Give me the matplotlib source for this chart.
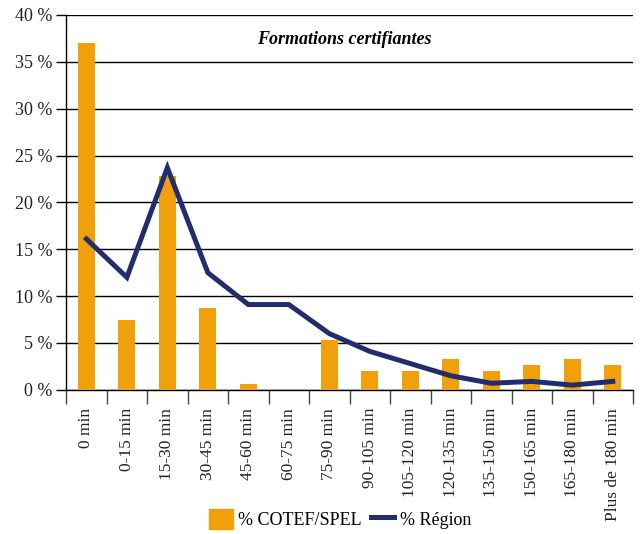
import matplotlib.pyplot as plt
import numpy as np
from matplotlib.patches import Patch
from matplotlib.lines import Line2D

categories = ["0 min", "0-15 min", "15-30 min", "30-45 min", "45-60 min", "60-75 min",
              "75-90 min", "90-105 min", "105-120 min", "120-135 min", "135-150 min",
              "150-165 min", "165-180 min", "Plus de 180 min"]
cotef = [37.0, 7.4, 22.8, 8.7, 0.6, 0.0, 5.3, 2.0, 2.0, 3.3, 2.0, 2.7, 3.3, 2.7]
region = [16.1, 12.0, 23.7, 12.5, 9.1, 9.1, 6.0, 4.1, 2.8, 1.5, 0.7, 0.9, 0.5, 0.9]
yticks = [0, 5, 10, 15, 20, 25, 30, 35, 40]

orange = "#F0A00A"
navy = "#222D6E"

plt.rcParams["font.family"] = ["Liberation Serif", "DejaVu Serif"]

fig = plt.figure(figsize=(6.42, 5.34), dpi=100)
ax = fig.add_axes([0.103, 0.27, 0.883, 0.702])

x = np.arange(len(categories))
ax.bar(x, cotef, width=0.42, color=orange, zorder=3)
ax.plot(x, region, color=navy, linewidth=3.6, zorder=4, solid_joinstyle="miter")

ax.set_xlim(-0.5, len(categories) - 0.5)
ax.set_ylim(0, 40)
ax.set_yticks(yticks)
ax.set_yticklabels([f"{v} %" for v in yticks], fontsize=13, color="#222222")
ax.yaxis.grid(True, color="black", linewidth=1.0, zorder=0)

ax.set_xticks(x)
ax.set_xticklabels(categories, rotation=90, fontsize=12.5, color="#222222")
ax.tick_params(axis="x", length=0, pad=13)
ax.set_xticks(np.arange(-0.5, len(categories)), minor=True)
ax.tick_params(axis="x", which="minor", length=10, width=1.0, color="#444444")
ax.tick_params(axis="y", length=7, width=1.0, direction="out", pad=3)

for side in ["top", "right"]:
    ax.spines[side].set_visible(False)
ax.spines["left"].set_linewidth(1.0)
ax.spines["bottom"].set_linewidth(1.0)

ax.text(0.49, 0.935, "Formations certifiantes", transform=ax.transAxes,
        ha="center", va="center", fontsize=13, fontweight="bold", style="italic")

handles = [Patch(color=orange, label="% COTEF/SPEL"),
           Line2D([], [], color=navy, linewidth=3.6, label="% Région")]
fig.legend(handles=handles, loc="center", bbox_to_anchor=(0.53, 0.028), ncol=2,
           frameon=False, fontsize=13, handlelength=1.3, handleheight=1.3,
           columnspacing=0.5, handletextpad=0.3)

fig.savefig("out.png", dpi=100)
